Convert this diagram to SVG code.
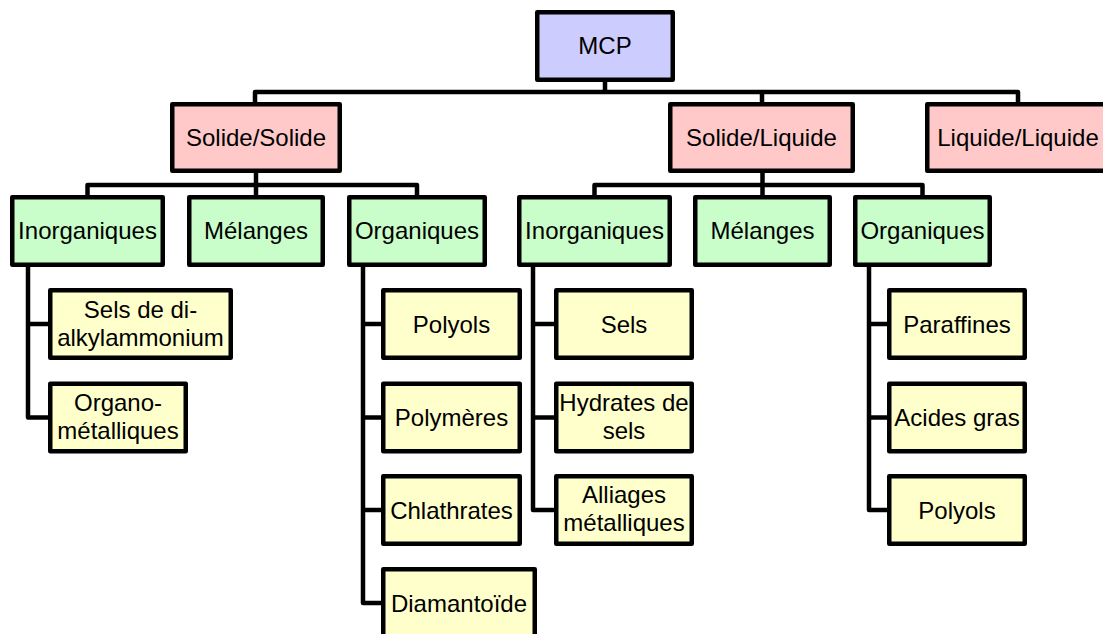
<svg xmlns="http://www.w3.org/2000/svg" width="1103" height="634" viewBox="0 0 1103 634">
<style>
.box{stroke:#000;stroke-width:4.5;stroke-linejoin:round}
.top{fill:#ccccff}
.l1{fill:#ffc9c9}
.l2{fill:#c9fdc9}
.l3{fill:#ffffcc}
.con{fill:none;stroke:#000;stroke-width:4.5;stroke-linejoin:round}
text{font-family:"Liberation Sans",Arial,sans-serif;font-size:24px;fill:#000;text-anchor:middle}
</style>
<rect width="1103" height="634" fill="#fff"/>
<g id="connectors" class="con">
<path d="M605,82 V92"/>
<path d="M255,104 V92 H1018 V104"/>
<path d="M762,92 V104"/>
<path d="M256,173 V197"/>
<path d="M87.5,197 V185 H417 V197"/>
<path d="M762.5,173 V197"/>
<path d="M594.5,197 V185 H922.5 V197"/>
<path d="M28,267 V417.5 H50"/>
<path d="M28,324 H50"/>
<path d="M363,267 V603 H383"/>
<path d="M363,324 H383"/>
<path d="M363,417.5 H383"/>
<path d="M363,510 H383"/>
<path d="M533,267 V510 H556"/>
<path d="M533,324 H556"/>
<path d="M533,417.5 H556"/>
<path d="M869,267 V510 H889"/>
<path d="M869,324 H889"/>
<path d="M869,417.5 H889"/>
</g>
<g id="mcp"><rect class="box top" x="537.25" y="12.25" width="135.5" height="67.5"/><text x="605" y="54">MCP</text></g>
<g id="solide-solide"><rect class="box l1" x="172.25" y="104.25" width="167.5" height="66.5"/><text x="256" y="146">Solide/Solide</text></g>
<g id="solide-liquide"><rect class="box l1" x="670.25" y="104.25" width="182.5" height="66.5"/><text x="761.5" y="146">Solide/Liquide</text></g>
<g id="liquide-liquide"><rect class="box l1" x="927.25" y="104.25" width="181.5" height="66.5"/><text x="1018" y="146">Liquide/Liquide</text></g>
<g id="ss-inorganiques"><rect class="box l2" x="12.25" y="197.25" width="150.5" height="67.5"/><text x="87.5" y="239">Inorganiques</text></g>
<g id="ss-melanges"><rect class="box l2" x="189.25" y="197.25" width="133.5" height="67.5"/><text x="256" y="239">Mélanges</text></g>
<g id="ss-organiques"><rect class="box l2" x="349.25" y="197.25" width="135.5" height="67.5"/><text x="417" y="239">Organiques</text></g>
<g id="sl-inorganiques"><rect class="box l2" x="519.25" y="197.25" width="150.5" height="67.5"/><text x="594.5" y="239">Inorganiques</text></g>
<g id="sl-melanges"><rect class="box l2" x="695.25" y="197.25" width="134.5" height="67.5"/><text x="762.5" y="239">Mélanges</text></g>
<g id="sl-organiques"><rect class="box l2" x="855.25" y="197.25" width="134.5" height="67.5"/><text x="922.5" y="239">Organiques</text></g>
<g id="sels-dialkyl"><rect class="box l3" x="50.25" y="290.25" width="180.5" height="67.5"/><text x="140.5" y="318">Sels de di-</text><text x="140.5" y="346">alkylammonium</text></g>
<g id="organometalliques"><rect class="box l3" x="50.25" y="383.75" width="135.5" height="67.5"/><text x="118" y="410.5">Organo-</text><text x="118" y="438.5">métalliques</text></g>
<g id="ss-polyols"><rect class="box l3" x="383.25" y="290.25" width="136.5" height="67.5"/><text x="451.5" y="332.5">Polyols</text></g>
<g id="polymeres"><rect class="box l3" x="383.25" y="383.75" width="136.5" height="67.5"/><text x="451.5" y="426">Polymères</text></g>
<g id="chlathrates"><rect class="box l3" x="383.25" y="476.25" width="136.5" height="67.5"/><text x="451.5" y="518.5">Chlathrates</text></g>
<g id="diamantoide"><rect class="box l3" x="383.25" y="569.25" width="151.5" height="67.5"/><text x="459" y="611.5">Diamantoïde</text></g>
<g id="sels"><rect class="box l3" x="556.25" y="290.25" width="135.5" height="67.5"/><text x="624" y="332.5">Sels</text></g>
<g id="hydrates"><rect class="box l3" x="556.25" y="383.75" width="135.5" height="67.5"/><text x="624" y="410.5">Hydrates de</text><text x="624" y="438.5">sels</text></g>
<g id="alliages"><rect class="box l3" x="556.25" y="476.25" width="135.5" height="67.5"/><text x="624" y="503">Alliages</text><text x="624" y="531">métalliques</text></g>
<g id="paraffines"><rect class="box l3" x="889.25" y="290.25" width="135.5" height="67.5"/><text x="957" y="332.5">Paraffines</text></g>
<g id="acides-gras"><rect class="box l3" x="889.25" y="383.75" width="135.5" height="67.5"/><text x="957" y="426">Acides gras</text></g>
<g id="sl-polyols"><rect class="box l3" x="889.25" y="476.25" width="135.5" height="67.5"/><text x="957" y="518.5">Polyols</text></g>
</svg>
